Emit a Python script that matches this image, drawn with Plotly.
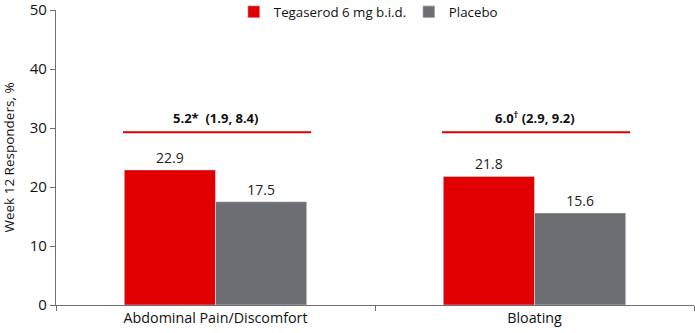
import plotly.graph_objects as go

categories = ["Abdominal Pain/Discomfort", "Bloating"]
tegaserod = [22.9, 21.8]
placebo = [17.5, 15.6]
diff_labels = ["<b>5.2*  (1.9, 8.4)</b>", "<b>6.0<sup>†</sup> (2.9, 9.2)</b>"]
bracket_level = [29.3, 29.3]
y_ticks = [0, 10, 20, 30, 40, 50]

RED = "#E10000"
GRAY = "#6D6E71"
FONT = "Open Sans"

fig = go.Figure()
fig.add_trace(go.Bar(
    name="Tegaserod 6 mg b.i.d.", x=categories, y=tegaserod, marker_color=RED,
    text=[f"{v:.1f}" for v in tegaserod], textposition="outside",
    textfont=dict(size=14, color="#222222"), cliponaxis=False))
fig.add_trace(go.Bar(
    name="Placebo", x=categories, y=placebo, marker_color=GRAY,
    text=[f"{v:.1f}" for v in placebo], textposition="outside",
    textfont=dict(size=14, color="#222222"), cliponaxis=False))

for i, (lab, lvl) in enumerate(zip(diff_labels, bracket_level)):
    fig.add_shape(type="line", xref="x", yref="y", x0=i - 0.29, x1=i + 0.30,
                  y0=lvl, y1=lvl, line=dict(color=RED, width=2))
    fig.add_annotation(x=i, y=lvl, xref="x", yref="y", text=lab, showarrow=False,
                       yanchor="bottom", yshift=3, font=dict(size=13, color="#111111"))

fig.update_layout(
    width=695, height=333,
    margin=dict(l=56, r=1, t=10, b=28, autoexpand=False),
    plot_bgcolor="white", paper_bgcolor="white",
    font=dict(family=FONT, size=13, color="#111111"),
    barmode="group", bargap=0.428, bargroupgap=0,
    showlegend=True,
    legend=dict(orientation="h", x=0.553, xanchor="center", y=1.045, yanchor="top",
                font=dict(size=13.3), itemwidth=30, entrywidth=130,
                entrywidthmode="pixels", bgcolor="rgba(0,0,0,0)"),
    xaxis=dict(showline=True, linecolor="#6f6f6f", linewidth=1.2, automargin=False,
               ticks="outside", tickson="boundaries", ticklen=5, tickcolor="#6f6f6f",
               tickfont=dict(size=14.3), showgrid=False),
    yaxis=dict(range=[0, 50], tickvals=y_ticks, showline=True, linecolor="#6f6f6f",
               linewidth=1.2, ticks="outside", ticklen=5, tickcolor="#6f6f6f",
               tickfont=dict(size=15), showgrid=False, zeroline=False,
               automargin=False, ticklabeloverflow="allow",
               title=dict(text="Week 12 Responders, %", font=dict(size=13.5), standoff=14)),
)

fig.write_html("out.html", config={"displayModeBar": False},
               post_script="document.body.style.margin='0';")
